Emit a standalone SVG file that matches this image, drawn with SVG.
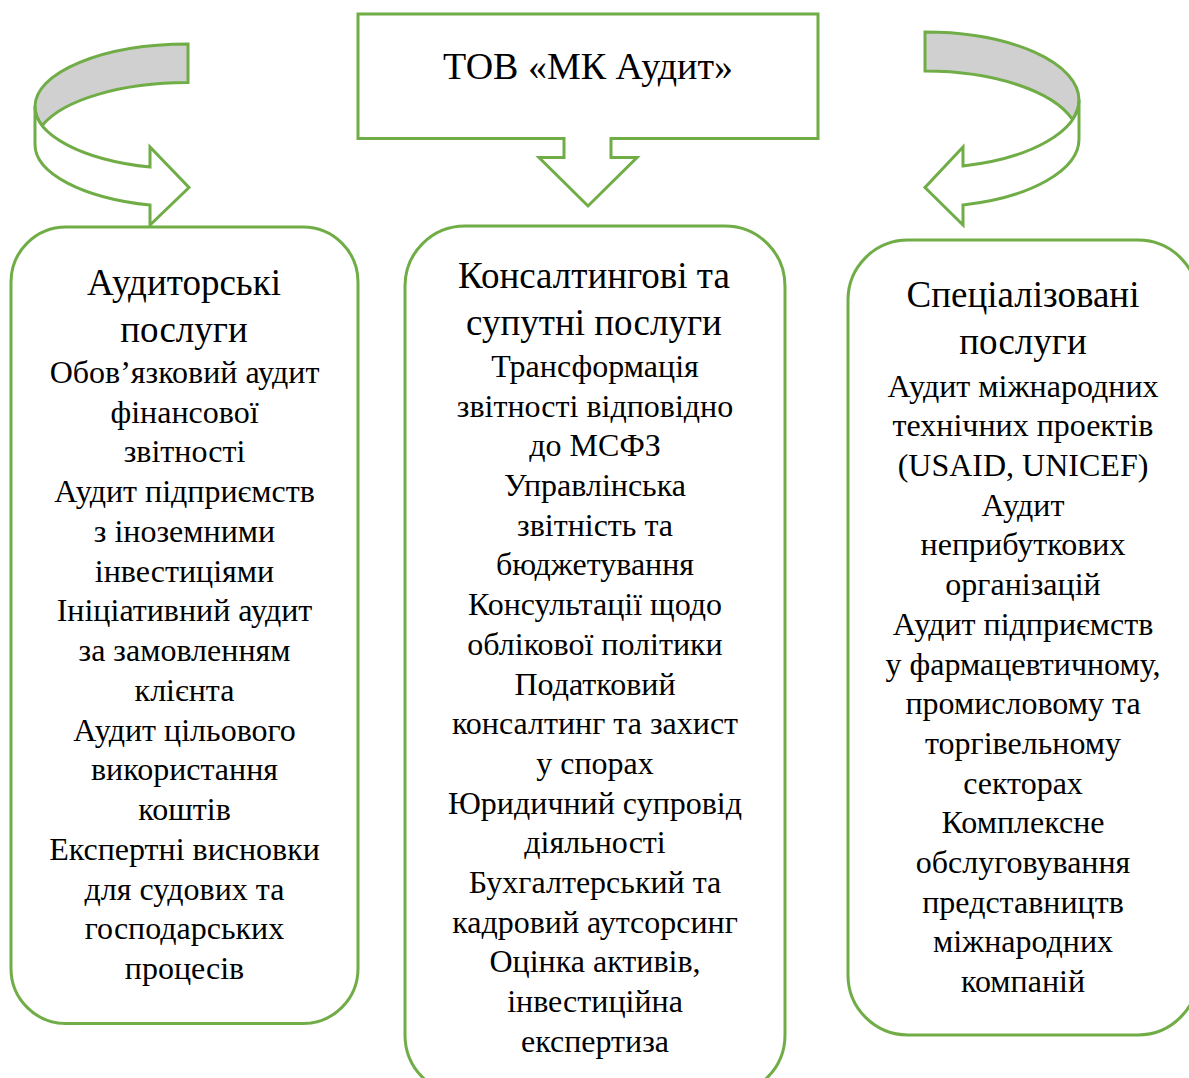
<svg xmlns="http://www.w3.org/2000/svg" width="1189" height="1078" viewBox="0 0 1189 1078">
<style>
.sh{fill:#fff;stroke:#70AD47;stroke-width:3;stroke-linejoin:miter}
.back{fill:#D0D0D0;stroke:#70AD47;stroke-width:3}
.t{font-family:"Liberation Serif","Times New Roman",serif;fill:#000;text-anchor:middle}
.ttl{font-size:38px}
.h{font-size:37px}
.b{font-size:32px}
</style>
<rect width="1189" height="1078" fill="#fff"/>
<g id="connectors">
  <g id="arrow-left">
    <path class="back" d="M188,44 A153,62.5 0 0 0 35,106.5 A153,62.5 0 0 0 42.2,125.5 A153,62.5 0 0 1 188,82.5 Z"/>
    <path class="sh" d="M35,106.5 L35,144.5 A153,62.5 0 0 0 150,205.1 L150,225 L189,187.5 L150,147 L150,167.1 A153,62.5 0 0 1 35,106.5 Z"/>
  </g>
  <g id="arrow-right">
    <path class="back" d="M925,32 A154,68 0 0 1 1079,100 A154,68 0 0 1 1072.5,119.5 A154,68 0 0 0 925,71 Z"/>
    <path class="sh" d="M1079,100 L1079,139 A154,68 0 0 1 963,204.9 L963,225 L925,187.5 L963,147 L963,165.9 A154,68 0 0 0 1079,100 Z"/>
  </g>
</g>
<g id="node-top">
  <path class="sh" d="M358,14 L818,14 L818,138.5 L611,138.5 L611,157.5 L637,157.5 L588,206 L539,157.5 L564,157.5 L564,138.5 L358,138.5 Z"/>
  <text class="t ttl" x="588" y="79">ТОВ «МК Аудит»</text>
</g>
<g id="node-audit">
  <rect class="sh" x="11" y="227" width="347" height="796.5" rx="55" ry="55"/>
  <text class="t h"><tspan x="184" y="295">Аудиторські</tspan><tspan x="184" y="342">послуги</tspan></text>
  <text class="t b"><tspan x="184.5" y="383">Обов’язковий аудит</tspan><tspan x="184.5" y="423">фінансової</tspan><tspan x="184.5" y="462">звітності</tspan><tspan x="184.5" y="502">Аудит підприємств</tspan><tspan x="184.5" y="542">з іноземними</tspan><tspan x="184.5" y="582">інвестиціями</tspan><tspan x="184.5" y="621">Ініціативний аудит</tspan><tspan x="184.5" y="661">за замовленням</tspan><tspan x="184.5" y="701">клієнта</tspan><tspan x="184.5" y="741">Аудит цільового</tspan><tspan x="184.5" y="780">використання</tspan><tspan x="184.5" y="820">коштів</tspan><tspan x="184.5" y="860">Експертні висновки</tspan><tspan x="184.5" y="900">для судових та</tspan><tspan x="184.5" y="939">господарських</tspan><tspan x="184.5" y="979">процесів</tspan></text>
</g>
<g id="node-consulting">
  <rect class="sh" x="405" y="226" width="380" height="869" rx="60" ry="60"/>
  <text class="t h"><tspan x="594" y="288">Консалтингові та</tspan><tspan x="594" y="335">супутні послуги</tspan></text>
  <text class="t b"><tspan x="595" y="377">Трансформація</tspan><tspan x="595" y="417">звітності відповідно</tspan><tspan x="595" y="456">до МСФЗ</tspan><tspan x="595" y="496">Управлінська</tspan><tspan x="595" y="536">звітність та</tspan><tspan x="595" y="575">бюджетування</tspan><tspan x="595" y="615">Консультації щодо</tspan><tspan x="595" y="655">облікової політики</tspan><tspan x="595" y="695">Податковий</tspan><tspan x="595" y="734">консалтинг та захист</tspan><tspan x="595" y="774">у спорах</tspan><tspan x="595" y="814">Юридичний супровід</tspan><tspan x="595" y="853">діяльності</tspan><tspan x="595" y="893">Бухгалтерський та</tspan><tspan x="595" y="933">кадровий аутсорсинг</tspan><tspan x="595" y="972">Оцінка активів,</tspan><tspan x="595" y="1012">інвестиційна</tspan><tspan x="595" y="1052">експертиза</tspan></text>
</g>
<g id="node-special">
  <rect class="sh" x="848" y="240" width="350" height="795" rx="60" ry="60"/>
  <text class="t h"><tspan x="1023" y="307">Спеціалізовані</tspan><tspan x="1023" y="354">послуги</tspan></text>
  <text class="t b"><tspan x="1023" y="397">Аудит міжнародних</tspan><tspan x="1023" y="436">технічних проектів</tspan><tspan x="1023" y="476">(USAID, UNICEF)</tspan><tspan x="1023" y="516">Аудит</tspan><tspan x="1023" y="555">неприбуткових</tspan><tspan x="1023" y="595">організацій</tspan><tspan x="1023" y="635">Аудит підприємств</tspan><tspan x="1023" y="675">у фармацевтичному,</tspan><tspan x="1023" y="714">промисловому та</tspan><tspan x="1023" y="754">торгівельному</tspan><tspan x="1023" y="794">секторах</tspan><tspan x="1023" y="833">Комплексне</tspan><tspan x="1023" y="873">обслуговування</tspan><tspan x="1023" y="913">представництв</tspan><tspan x="1023" y="952">міжнародних</tspan><tspan x="1023" y="992">компаній</tspan></text>
</g>
</svg>
